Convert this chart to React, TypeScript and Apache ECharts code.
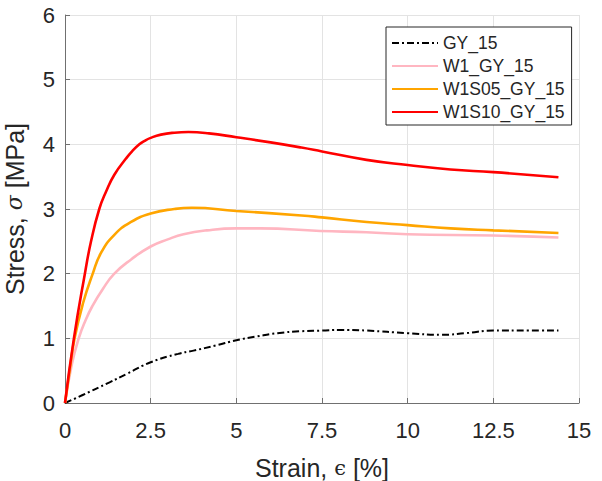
import React, { useEffect, useRef } from "react";
import * as echarts from "echarts";

const seriesNames = ["GY_15", "W1_GY_15", "W1S05_GY_15", "W1S10_GY_15"];
const seriesColors = ["#000000", "#FFB6C1", "#FFA500", "#FF0000"];

const gyStrain = [0, 0.5, 1.3, 1.8, 2.5, 3.3, 3.75, 4.4, 5, 5.6, 6.2, 6.9, 7.5, 8.0, 8.8, 10, 11.0, 11.7, 12.5, 13.5, 14.4];
const gyStress = [0, 0.12, 0.32, 0.45, 0.63, 0.76, 0.81, 0.89, 0.97, 1.03, 1.08, 1.11, 1.12, 1.13, 1.12, 1.08, 1.055, 1.08, 1.12, 1.12, 1.12];

const w1Strain = [0, 0.2, 0.4, 0.6, 0.8, 1.1, 1.44, 1.93, 2.5, 3.0, 3.46, 4.14, 5.0, 5.7, 7.45, 8.8, 10, 12.5, 14.4];
const w1Stress = [0, 0.6, 1.0, 1.28, 1.5, 1.76, 2.0, 2.22, 2.42, 2.53, 2.61, 2.67, 2.70, 2.70, 2.66, 2.64, 2.61, 2.59, 2.56];

const w1s05Strain = [0, 0.13, 0.28, 0.53, 0.81, 1.05, 1.44, 1.93, 2.5, 3.19, 3.7, 5.0, 6.9, 7.5, 8.8, 10, 11.25, 12.5, 14.4];
const w1s05Stress = [0, 0.48, 1.0, 1.55, 2.0, 2.32, 2.6, 2.8, 2.93, 3.0, 3.02, 2.97, 2.90, 2.87, 2.80, 2.75, 2.70, 2.67, 2.63];

const w1s10Strain = [0, 0.26, 0.58, 0.76, 1.0, 1.2, 1.44, 1.78, 1.97, 2.17, 2.31, 2.5, 2.8, 3.19, 3.6, 4.2, 5.0, 6.0, 6.9, 7.5, 8.8, 10, 11.25, 12.5, 14.4];
const w1s10Stress = [0, 1.0, 2.0, 2.5, 3.0, 3.27, 3.53, 3.78, 3.9, 4.0, 4.05, 4.1, 4.15, 4.18, 4.19, 4.17, 4.11, 4.03, 3.95, 3.89, 3.76, 3.68, 3.61, 3.57, 3.49];

const strainSets = [gyStrain, w1Strain, w1s05Strain, w1s10Strain];
const stressSets = [gyStress, w1Stress, w1s05Stress, w1s10Stress];

const FONT = "'Liberation Sans', Arial, Helvetica, sans-serif";
const TXT = "#262626";
const AXIS = "#707070";

export default function App() {
  const ref = useRef<HTMLDivElement>(null);
  useEffect(() => {
    if (!ref.current) return;
    const chart = echarts.init(ref.current, undefined, { renderer: "svg" });
    const series = seriesNames.map((name, i) => ({
      name,
      type: "line",
      data: strainSets[i].map((x, j) => [x, stressSets[i][j]]),
      showSymbol: false,
      symbol: "none",
      smooth: 0.5,
      z: 2 + i,
      lineStyle: {
        color: seriesColors[i],
        width: i === 0 ? 2 : 2.6,
        type: i === 0 ? [7, 3, 2, 3] : "solid",
      },
      itemStyle: { color: seriesColors[i] },
    }));
    chart.setOption({
      animation: false,
      backgroundColor: "#ffffff",
      grid: {
        left: 65,
        top: 15,
        right: 23,
        bottom: 78,
        containLabel: false,
        outerBoundsMode: "none",
      },
      legend: {
        orient: "vertical",
        left: 386,
        top: 27,
        padding: [7, 7, 4, 5],
        itemWidth: 46,
        itemHeight: 14,
        itemGap: 5,
        itemStyle: { opacity: 0 },
        backgroundColor: "#ffffff",
        borderColor: "#262626",
        borderWidth: 1,
        borderRadius: 0,
        textStyle: { fontFamily: FONT, fontSize: 17.5, color: TXT, lineHeight: 17 },
        data: seriesNames,
      },
      xAxis: {
        type: "value",
        min: 0,
        max: 15,
        interval: 2.5,
        name: "Strain, {g|ϵ} [%]",
        nameLocation: "middle",
        nameGap: 52,
        nameTextStyle: {
          fontFamily: FONT,
          fontSize: 25,
          color: TXT,
          rich: { g: { fontFamily: "'DejaVu Serif', serif", fontSize: 21, color: TXT } },
        },
        axisLine: { show: true, lineStyle: { color: AXIS, width: 1 } },
        axisTick: { show: true, inside: true, length: 5, lineStyle: { color: AXIS } },
        axisLabel: { fontFamily: FONT, fontSize: 22, color: TXT, margin: 16 },
        splitLine: { show: true, lineStyle: { color: "#e3e3e3", width: 1 } },
      },
      yAxis: {
        type: "value",
        min: 0,
        max: 6,
        interval: 1,
        name: "Stress, {g|σ} [MPa]",
        nameLocation: "middle",
        nameGap: 38,
        nameRotate: 90,
        nameTextStyle: {
          fontFamily: FONT,
          fontSize: 25,
          color: TXT,
          rich: { g: { fontFamily: "'DejaVu Serif', serif", fontStyle: "italic", fontSize: 22, color: TXT } },
        },
        axisLine: { show: true, lineStyle: { color: AXIS, width: 1 } },
        axisTick: { show: true, inside: true, length: 5, lineStyle: { color: AXIS } },
        axisLabel: { fontFamily: FONT, fontSize: 22, color: TXT, margin: 10 },
        splitLine: { show: true, lineStyle: { color: "#e3e3e3", width: 1 } },
      },
      series,
    });
    return () => chart.dispose();
  }, []);
  return (
    <div
      ref={ref}
      style={{ position: "fixed", left: 0, top: 0, width: 602, height: 481, background: "#fff" }}
    />
  );
}
